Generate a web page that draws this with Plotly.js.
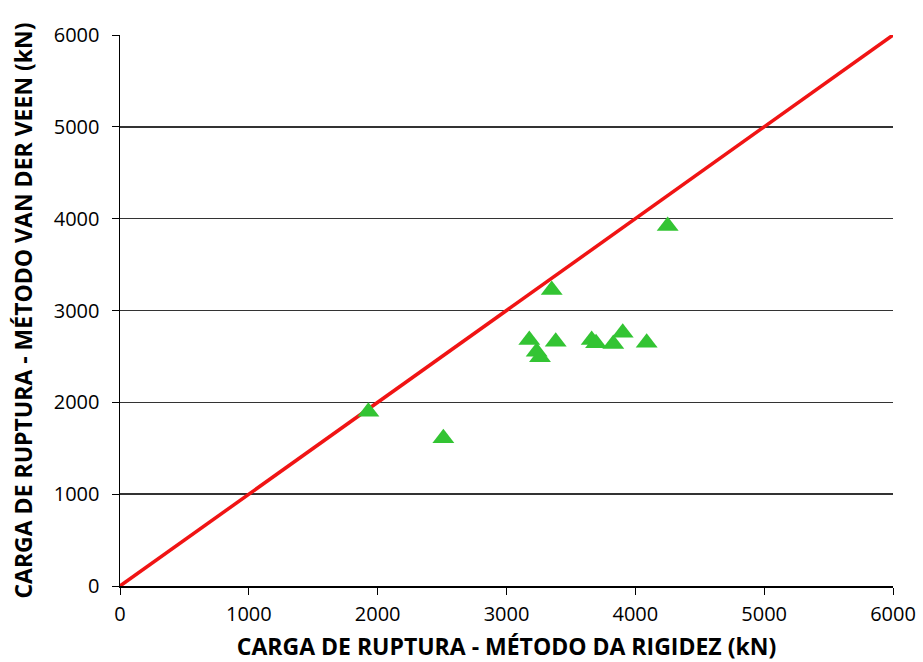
<!DOCTYPE html>
<html>
<head>
<meta charset="utf-8">
<script src="https://cdn.plot.ly/plotly-3.0.1.min.js"></script>
<style>html,body{margin:0;padding:0;background:#fff;}#chart{width:923px;height:662px;}</style>
</head>
<body>
<div id="chart"></div>
<script>
// Breaking load: stiffness method (x) vs Van der Veen method (y), in kN
const rigidezKN = [1928, 2510, 3177, 3234, 3260, 3351, 3382, 3661, 3695, 3829, 3902, 4088, 4251];
const vanDerVeenKN = [1898, 1608, 2679, 2551, 2490, 3223, 2660, 2679, 2643, 2635, 2758, 2649, 3920];
// 1:1 reference line
const lineX = [0, 6000];
const lineY = [0, 6000];
const tickVals = [0, 1000, 2000, 3000, 4000, 5000, 6000];

const traces = [
  {
    x: lineX, y: lineY, mode: 'lines', type: 'scatter',
    line: {color: '#f01414', width: 3.5},
    hoverinfo: 'skip'
  },
  {
    x: rigidezKN, y: vanDerVeenKN, mode: 'markers', type: 'scatter',
    marker: {symbol: 'triangle-up', size: 19, color: '#33c433', line: {width: 0}}
  }
];

const font = {family: '"Open Sans", sans-serif', color: '#000'};
const titleFont = {size: 23, family: '"Open Sans", sans-serif', weight: 'bold', color: '#000'};
const layout = {
  width: 923, height: 662,
  margin: {l: 120, r: 30, t: 35, b: 76},
  showlegend: false,
  paper_bgcolor: '#fff', plot_bgcolor: '#fff',
  font: font,
  xaxis: {
    range: [0, 6000], tickvals: tickVals, ticks: 'outside', ticklen: 7, tickcolor: '#000',
    ticklabelstandoff: 2,
    showgrid: false, zeroline: false, showline: true, linecolor: '#000', linewidth: 1.5,
    tickfont: {size: 20, family: font.family, color: '#000'},
    title: {text: 'CARGA DE RUPTURA - MÉTODO DA RIGIDEZ (kN)', standoff: 16, font: titleFont}
  },
  yaxis: {
    range: [0, 6000], tickvals: tickVals, ticks: 'outside', ticklen: 7, tickcolor: '#000',
    ticklabelstandoff: 8,
    showgrid: true, gridcolor: '#333', gridwidth: 1.5, zeroline: false,
    showline: true, linecolor: '#000', linewidth: 1.5,
    tickfont: {size: 20, family: font.family, color: '#000'},
    title: {text: 'CARGA DE RUPTURA - MÉTODO VAN DER VEEN (kN)', standoff: 14, font: titleFont}
  }
};

Plotly.newPlot('chart', traces, layout, {displayModeBar: false, staticPlot: true});
</script>
</body>
</html>
